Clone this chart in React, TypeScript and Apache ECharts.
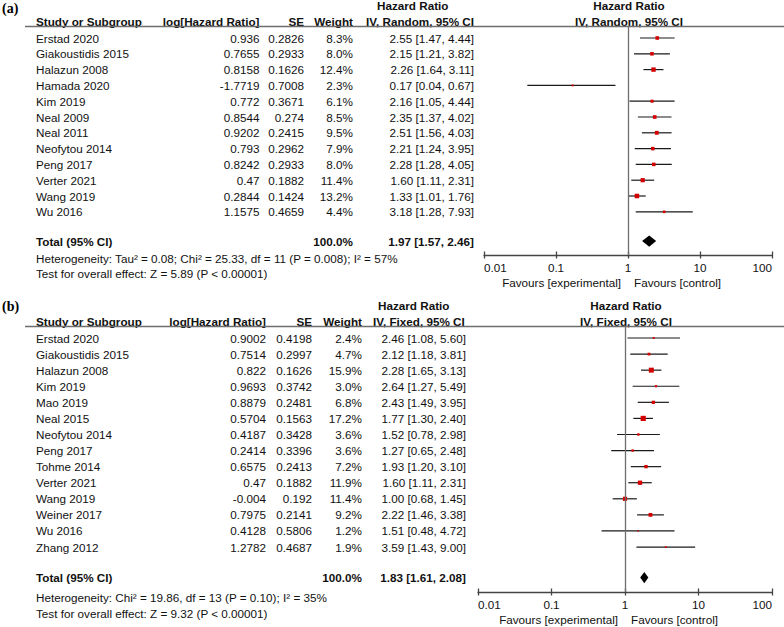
import { useEffect, useRef } from "react";
import * as echarts from "echarts";

// ---------- Panel (a) data ----------
const studiesA = ["Erstad 2020", "Giakoustidis 2015", "Halazun 2008", "Hamada 2020", "Kim 2019", "Neal 2009", "Neal 2011", "Neofytou 2014", "Peng 2017", "Verter 2021", "Wang 2019", "Wu 2016"];
const logHrA = [0.936, 0.7655, 0.8158, -1.7719, 0.772, 0.8544, 0.9202, 0.793, 0.8242, 0.47, 0.2844, 1.1575];
const seA = [0.2826, 0.2933, 0.1626, 0.7008, 0.3671, 0.274, 0.2415, 0.2962, 0.2933, 0.1882, 0.1424, 0.4659];
const weightA = [8.3, 8.0, 12.4, 2.3, 6.1, 8.5, 9.5, 7.9, 8.0, 11.4, 13.2, 4.4];
const hrA = [2.55, 2.15, 2.26, 0.17, 2.16, 2.35, 2.51, 2.21, 2.28, 1.60, 1.33, 3.18];
const lowA = [1.47, 1.21, 1.64, 0.04, 1.05, 1.37, 1.56, 1.24, 1.28, 1.11, 1.01, 1.28];
const highA = [4.44, 3.82, 3.11, 0.67, 4.44, 4.02, 4.03, 3.95, 4.05, 2.31, 1.76, 7.93];
const totalA = [1.97, 1.57, 2.46];
const hetA = "Heterogeneity: Tau² = 0.08; Chi² = 25.33, df = 11 (P = 0.008); I² = 57%";
const testA = "Test for overall effect: Z = 5.89 (P < 0.00001)";

// ---------- Panel (b) data ----------
const studiesB = ["Erstad 2020", "Giakoustidis 2015", "Halazun 2008", "Kim 2019", "Mao 2019", "Neal 2015", "Neofytou 2014", "Peng 2017", "Tohme 2014", "Verter 2021", "Wang 2019", "Weiner 2017", "Wu 2016", "Zhang 2012"];
const logHrB = [0.9002, 0.7514, 0.822, 0.9693, 0.8879, 0.5704, 0.4187, 0.2414, 0.6575, 0.47, -0.004, 0.7975, 0.4128, 1.2782];
const seB = [0.4198, 0.2997, 0.1626, 0.3742, 0.2481, 0.1563, 0.3428, 0.3396, 0.2413, 0.1882, 0.192, 0.2141, 0.5806, 0.4687];
const weightB = [2.4, 4.7, 15.9, 3.0, 6.8, 17.2, 3.6, 3.6, 7.2, 11.9, 11.4, 9.2, 1.2, 1.9];
const hrB = [2.46, 2.12, 2.28, 2.64, 2.43, 1.77, 1.52, 1.27, 1.93, 1.60, 1.00, 2.22, 1.51, 3.59];
const lowB = [1.08, 1.18, 1.65, 1.27, 1.49, 1.30, 0.78, 0.65, 1.20, 1.11, 0.68, 1.46, 0.48, 1.43];
const highB = [5.60, 3.81, 3.13, 5.49, 3.95, 2.40, 2.98, 2.48, 3.10, 2.31, 1.45, 3.38, 4.72, 9.00];
const totalB = [1.83, 1.61, 2.08];
const hetB = "Heterogeneity: Chi² = 19.86, df = 13 (P = 0.10); I² = 35%";
const testB = "Test for overall effect: Z = 9.32 (P < 0.00001)";

// ---------- Axis ticks ----------
const tickValues = [0.01, 0.1, 1, 10, 100];
const tickLabels = ["0.01", "0.1", "1", "10", "100"];

const FONT = '"Liberation Sans", Arial, Helvetica, sans-serif';
const FS = 11.7;
const TXT = "#111";

type Layout = {
  label: string; labelY: number; h1Y: number; h2Y: number; lineY: number;
  row0: number; step: number; totalIdx: number; hetY: number; testY: number; favY: number;
  colStudy: number; colLog: number; colSE: number; colW: number; colCI: number;
  ciHeadL: number; hrHeadL: number; plotL: number; plotR: number; axisY: number;
  plotHeadC: number; ciHead: string;
};

const layoutA: Layout = {
  label: "(a)", labelY: 8, h1Y: 5.5, h2Y: 21, lineY: 26.5,
  row0: 38, step: 15.8, totalIdx: 12.85, hetY: 258, testY: 273, favY: 282,
  colStudy: 36, colLog: 259.5, colSE: 304, colW: 353, colCI: 474,
  ciHeadL: 366, hrHeadL: 377, plotL: 484, plotR: 772, axisY: 255,
  plotHeadC: 629, ciHead: "IV, Random, 95% CI",
};
const layoutB: Layout = {
  label: "(b)", labelY: 306, h1Y: 305.5, h2Y: 321.5, lineY: 326.5,
  row0: 338, step: 16.08, totalIdx: 14.9, hetY: 597, testY: 613, favY: 619,
  colStudy: 36, colLog: 266, colSE: 312, colW: 362, colCI: 466,
  ciHeadL: 373, hrHeadL: 378, plotL: 478, plotR: 772, axisY: 592,
  plotHeadC: 626, ciHead: "IV, Fixed, 95% CI",
};

type Panel = {
  studies: string[]; logHr: number[]; se: number[]; weight: number[];
  hr: number[]; low: number[]; high: number[]; total: number[]; het: string; test: string;
};
const panelA: Panel = { studies: studiesA, logHr: logHrA, se: seA, weight: weightA, hr: hrA, low: lowA, high: highA, total: totalA, het: hetA, test: testA };
const panelB: Panel = { studies: studiesB, logHr: logHrB, se: seB, weight: weightB, hr: hrB, low: lowB, high: highB, total: totalB, het: hetB, test: testB };

function txt(x: number, y: number, text: string, align: string = "left", bold = false, extra: any = {}) {
  return {
    type: "text",
    x, y,
    silent: true,
    style: {
      text,
      fill: TXT,
      font: `${bold ? "bold " : ""}${FS}px ${FONT}`,
      align,
      verticalAlign: "middle",
      ...extra,
    },
  };
}

const ciText = (h: number, l: number, u: number) => `${h.toFixed(2)} [${l.toFixed(2)}, ${u.toFixed(2)}]`;

function panelGraphics(L: Layout, P: Panel) {
  const els: any[] = [];
  els.push({
    type: "text", x: 2, y: L.labelY, silent: true,
    style: { text: L.label, fill: "#000", font: `bold 14px "Liberation Serif", "Times New Roman", serif`, align: "left", verticalAlign: "middle" },
  });
  els.push(txt(L.hrHeadL, L.h1Y, "Hazard Ratio", "left", true));
  els.push(txt(L.plotHeadC, L.h1Y, "Hazard Ratio", "center", true));
  els.push(txt(L.colStudy, L.h2Y, "Study or Subgroup", "left", true));
  els.push(txt(L.colLog, L.h2Y, "log[Hazard Ratio]", "right", true));
  els.push(txt(L.colSE, L.h2Y, "SE", "right", true));
  els.push(txt(L.colW, L.h2Y, "Weight", "right", true));
  els.push(txt(L.ciHeadL, L.h2Y, L.ciHead, "left", true));
  els.push(txt(L.plotHeadC, L.h2Y, L.ciHead, "center", true));
  els.push({
    type: "line", silent: true,
    shape: { x1: 25, y1: L.lineY, x2: 784, y2: L.lineY },
    style: { stroke: "#6e6e6e", lineWidth: 1.3 },
  });
  P.studies.forEach((s, i) => {
    const y = L.row0 + i * L.step;
    els.push(txt(L.colStudy, y, s));
    els.push(txt(L.colLog, y, String(P.logHr[i]), "right"));
    els.push(txt(L.colSE, y, String(P.se[i]), "right"));
    els.push(txt(L.colW, y, `${P.weight[i].toFixed(1)}%`, "right"));
    els.push(txt(L.colCI, y, ciText(P.hr[i], P.low[i], P.high[i]), "right"));
  });
  const ty = L.row0 + L.totalIdx * L.step;
  const wSum = P.weight.reduce((a, b) => a + b, 0);
  els.push(txt(L.colStudy, ty, "Total (95% CI)", "left", true));
  els.push(txt(L.colW, ty, `${Math.round(wSum).toFixed(1)}%`, "right", true));
  els.push(txt(L.colCI, ty, ciText(P.total[0], P.total[1], P.total[2]), "right", true));
  els.push(txt(L.colStudy, L.hetY, P.het));
  els.push(txt(L.colStudy, L.testY, P.test));
  const oneX = (L.plotL + L.plotR) / 2;
  els.push(txt(oneX - 7, L.favY, "Favours [experimental]", "right"));
  els.push(txt(oneX + 6, L.favY, "Favours [control]", "left"));
  return els;
}

const labelFormatter = (v: number) => {
  for (let i = 0; i < tickValues.length; i++) {
    if (Math.abs(Math.log10(v / tickValues[i])) < 1e-6) return tickLabels[i];
  }
  return "";
};

function xAxes(L: Layout, gridIndex: number) {
  const base = {
    type: "log", logBase: 10, min: tickValues[0], max: tickValues[tickValues.length - 1],
    gridIndex, splitLine: { show: false }, minorTick: { show: false },
  };
  const tickStyle = { color: "#444", width: 1.3 };
  return [
    {
      ...base,
      position: "bottom",
      axisLine: { show: true, onZero: false, lineStyle: tickStyle },
      axisTick: { show: true, length: 3.5, lineStyle: tickStyle },
      axisLabel: {
        show: true, formatter: labelFormatter, margin: 6, color: TXT, fontSize: FS, fontFamily: FONT,
        alignMinLabel: "left", alignMaxLabel: "right", showMinLabel: true, showMaxLabel: true,
      },
    },
    {
      // companion axis moved onto the bottom edge so the ticks cross the axis line
      ...base,
      position: "top",
      offset: -(L.axisY - L.lineY),
      axisLine: { show: false, onZero: false },
      axisTick: { show: true, inside: false, length: 3.5, lineStyle: tickStyle },
      axisLabel: { show: false },
    },
  ];
}

function yAxis(L: Layout, gridIndex: number) {
  return {
    type: "value", gridIndex, inverse: true, show: false,
    min: (L.lineY - L.row0) / L.step, max: (L.axisY - L.row0) / L.step,
    splitLine: { show: false }, axisLine: { show: false, onZero: false },
  };
}

function studySeries(L: Layout, P: Panel, idx: number) {
  const data = P.hr.map((h, i) => [h, P.low[i], P.high[i], i, P.weight[i]]);
  return [
    {
      type: "custom",
      xAxisIndex: idx * 2, yAxisIndex: idx,
      encode: { x: [0, 1, 2], y: 3 },
      data,
      clip: false,
      renderItem: (_params: any, api: any) => {
        const row = api.value(3);
        const p = api.coord([api.value(0), row]);
        const l = api.coord([api.value(1), row]);
        const r = api.coord([api.value(2), row]);
        const s = 1.25 * Math.sqrt(api.value(4));
        return {
          type: "group",
          children: [
            { type: "line", shape: { x1: l[0], y1: l[1], x2: r[0], y2: r[1] }, style: { stroke: "#1a1a1a", lineWidth: 1.2 } },
            { type: "rect", shape: { x: p[0] - s / 2, y: p[1] - s / 2, width: s, height: s }, style: { fill: "#d40000" } },
          ],
        };
      },
      markLine: {
        silent: true, symbol: "none", animation: false,
        label: { show: false },
        lineStyle: { color: "#6e6e6e", width: 1.3, type: "solid" },
        data: [{ xAxis: 1 }],
      },
      z: 3,
    },
    {
      type: "custom",
      xAxisIndex: idx * 2, yAxisIndex: idx,
      encode: { x: [0, 1, 2], y: 3 },
      data: [[P.total[0], P.total[1], P.total[2], L.totalIdx]],
      renderItem: (_params: any, api: any) => {
        const row = api.value(3);
        const c = api.coord([api.value(0), row]);
        const l = api.coord([api.value(1), row]);
        const r = api.coord([api.value(2), row]);
        const hh = 5.6;
        return {
          type: "polygon",
          shape: { points: [[l[0], c[1]], [c[0], c[1] - hh], [r[0], c[1]], [c[0], c[1] + hh]] },
          style: { fill: "#000" },
        };
      },
      z: 4,
    },
  ];
}

export default function App() {
  const ref = useRef<HTMLDivElement>(null);
  useEffect(() => {
    document.body.style.margin = "0";
    const chart = echarts.init(ref.current!, undefined, { renderer: "svg" });
    const grid = (L: Layout) => ({
      left: L.plotL, width: L.plotR - L.plotL, top: L.lineY, height: L.axisY - L.lineY, containLabel: false,
    });
    chart.setOption({
      animation: false,
      backgroundColor: "#fff",
      grid: [grid(layoutA), grid(layoutB)],
      xAxis: [...xAxes(layoutA, 0), ...xAxes(layoutB, 1)],
      yAxis: [yAxis(layoutA, 0), yAxis(layoutB, 1)],
      series: [...studySeries(layoutA, panelA, 0), ...studySeries(layoutB, panelB, 1)],
      graphic: { elements: [...panelGraphics(layoutA, panelA), ...panelGraphics(layoutB, panelB)] },
    });
    return () => chart.dispose();
  }, []);
  return <div ref={ref} style={{ position: "absolute", left: 0, top: 0, width: 784, height: 627 }} />;
}
